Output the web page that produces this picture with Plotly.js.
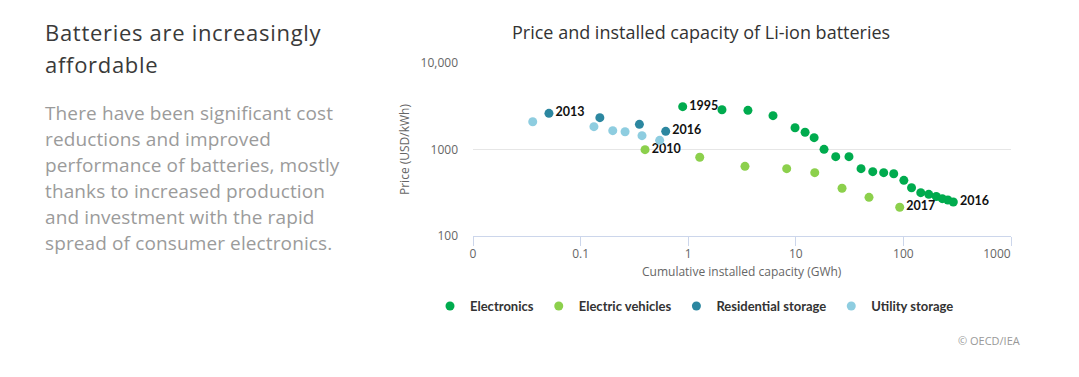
<!DOCTYPE html>
<html>
<head>
<meta charset="utf-8">
<script src="https://cdn.plot.ly/plotly-3.0.1.min.js"></script>
<style>
  html, body { margin: 0; padding: 0; background: #fff; width: 1079px; height: 377px; overflow: hidden; }
  #side { position: absolute; left: 45px; top: 16px; width: 340px; font-family: "Open Sans", sans-serif; }
  #side h1 { margin: 0; font-weight: 400; font-size: 22px; line-height: 32px; letter-spacing: 0.7px; color: #3a3a3a; white-space: nowrap; }
  #side p { margin: 19.5px 0 0 0; font-weight: 400; font-size: 19px; line-height: 26px; letter-spacing: 0.12px; color: #9b9b9b; white-space: nowrap; }
  #chart { position: absolute; left: 0; top: 0; width: 1079px; height: 377px; }
</style>
</head>
<body>
<div id="chart"></div>
<div id="side">
  <h1>Batteries are increasingly<br>affordable</h1>
  <p>There have been significant cost<br>reductions and improved<br>performance of batteries, mostly<br>thanks to increased production<br>and investment with the rapid<br>spread of consumer electronics.</p>
</div>
<script>
// Data (cumulative installed capacity in GWh, price in USD/kWh)
const electronicsX = [0.889, 2.06, 3.59, 6.14, 9.84, 12.2, 14.8, 18.3, 23.5, 31.2, 40.4, 51.9, 65.6, 81.3, 101, 119, 145, 172, 202, 230, 259, 291];
const electronicsY = [3126, 2884, 2838, 2460, 1786, 1581, 1370, 1005, 826, 826, 600, 554, 540, 525, 440, 361, 317, 303, 286, 270, 261, 247];
const electronicsLabels = ["1995", "", "", "", "", "", "", "", "", "", "", "", "", "", "", "", "", "", "", "", "", "2016"];

const evX = [0.397, 1.28, 3.37, 8.23, 15.0, 26.9, 47.9, 92.4];
const evY = [995, 813, 639, 600, 540, 356, 280, 215];
const evLabels = ["2010", "", "", "", "", "", "", "2017"];

const residentialX = [0.0508, 0.151, 0.352, 0.618];
const residentialY = [2620, 2333, 1955, 1623];
const residentialLabels = ["2013", "", "", "2016"];

const utilityX = [0.0359, 0.133, 0.199, 0.259, 0.372, 0.543];
const utilityY = [2096, 1836, 1651, 1606, 1445, 1277];
const utilityLabels = ["", "", "", "", "", ""];

const seriesNames = ["Electronics", "Electric vehicles", "Residential storage", "Utility storage"];
const seriesColors = ["#00ab4e", "#8cd04c", "#2c87a0", "#8ecde0"];

const NB = "\u00a0";
const xTickVals = [0.01, 0.1, 1, 10, 100, 1000];
const xTickText = ["0", "0.1", "1", "10", "100", "1000" + NB.repeat(9)];
const yTickVals = [100, 1000, 10000];
const yTickText = ["100", "1000", "10,000"];

const labelFont = { family: "Lato, 'Open Sans', sans-serif", size: 12.5, color: "#111111", weight: 700 };

function mk(i, xs, ys, labels) {
  return {
    type: "scatter", mode: "markers+text",
    name: seriesNames[i], x: xs, y: ys, text: labels,
    textposition: "middle right", textfont: labelFont,
    marker: { color: seriesColors[i], size: 9 },
    hoverinfo: "x+y+name", cliponaxis: false
  };
}

const traces = [
  mk(0, electronicsX, electronicsY, electronicsLabels),
  mk(1, evX, evY, evLabels),
  mk(2, residentialX, residentialY, residentialLabels),
  mk(3, utilityX, utilityY, utilityLabels)
];

const tickFont = { family: "'Open Sans', sans-serif", size: 12, color: "#666666" };

const layout = {
  width: 1079, height: 377,
  margin: { l: 473, r: 68, t: 63, b: 141, pad: 0 },
  paper_bgcolor: "#ffffff", plot_bgcolor: "#ffffff",
  showlegend: true,
  legend: {
    orientation: "h", xref: "container", yref: "container",
    x: 430 / 1079, xanchor: "left", y: 1 - 306 / 377, yanchor: "middle",
    font: { family: "Lato, 'Open Sans', sans-serif", size: 13, color: "#333333", weight: 700 },
    itemwidth: 30, traceorder: "normal"
  },
  xaxis: {
    type: "log", range: [-2, 3], tickvals: xTickVals, ticktext: xTickText,
    showgrid: false, zeroline: false, showline: true, linecolor: "#ccd6eb", linewidth: 1,
    ticks: "outside", ticklen: 9, tickcolor: "#ccd6eb", tickwidth: 1,
    tickfont: tickFont, ticklabelstandoff: -2, fixedrange: true
  },
  yaxis: {
    type: "log", range: [2, 4], tickvals: yTickVals, ticktext: yTickText,
    showgrid: true, gridcolor: "#e6e6e6", gridwidth: 1, zeroline: false, showline: false,
    ticks: "", tickfont: tickFont, ticklabelstandoff: 14, fixedrange: true
  },
  annotations: [
    { text: "Price and installed capacity of Li-ion batteries", xref: "paper", yref: "paper",
      x: (701 - 473) / 538, y: 1 + (63 - 32) / 173, xanchor: "center", yanchor: "middle", showarrow: false,
      font: { family: "'Open Sans', sans-serif", size: 18, color: "#333333" } },
    { text: "Price (USD/kWh)", xref: "paper", yref: "paper",
      x: (404 - 473) / 538, y: (236 - 150) / 173, xanchor: "center", yanchor: "middle", showarrow: false,
      textangle: -90, font: { family: "'Open Sans', sans-serif", size: 12, color: "#666666" } },
    { text: "Cumulative installed capacity (GWh)", xref: "paper", yref: "paper",
      x: 0.5, y: -(271 - 236) / 173, xanchor: "center", yanchor: "middle", showarrow: false,
      font: { family: "'Open Sans', sans-serif", size: 12, color: "#666666" } },
    { text: "© OECD/IEA", xref: "paper", yref: "paper",
      x: (1022 - 473) / 538, y: -(340 - 236) / 173, xanchor: "right", yanchor: "middle", showarrow: false,
      font: { family: "'Open Sans', sans-serif", size: 11, color: "#999999" } }
  ]
};

Plotly.newPlot("chart", traces, layout, { displayModeBar: false, staticPlot: true });
</script>
</body>
</html>
